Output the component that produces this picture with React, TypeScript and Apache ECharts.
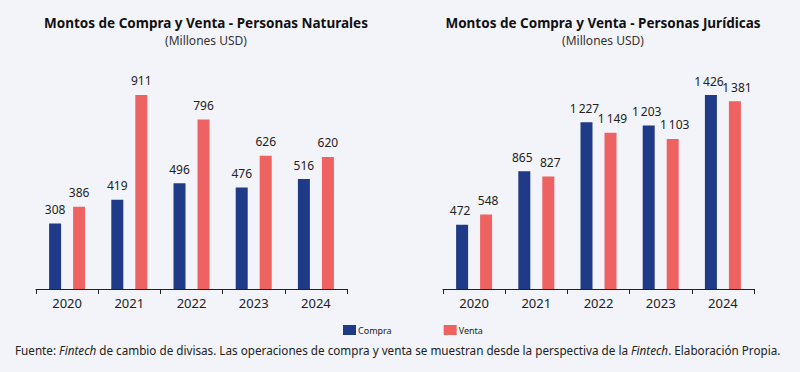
import React, { useEffect, useRef } from "react";
import * as echarts from "echarts";

const years = ["2020", "2021", "2022", "2023", "2024"];
const naturalesCompra = [308, 419, 496, 476, 516];
const naturalesVenta = [386, 911, 796, 626, 620];
const juridicasCompra = [472, 865, 1227, 1203, 1426];
const juridicasVenta = [548, 827, 1149, 1103, 1381];

const BG = "#f3f4f9";
const NAVY = "#1f3b87";
const RED = "#ee6262";
const FONT = "'Noto Sans', sans-serif";

const fmt = (v: number) => String(v).replace(/\B(?=(\d{3})+(?!\d))/g, "\u2009");

export default function App() {
  const ref = useRef<HTMLDivElement>(null);
  useEffect(() => {
    document.body.style.margin = "0";
    const chart = echarts.init(ref.current!, null, { renderer: "svg" });
    const xAxisBase = {
      type: "category" as const,
      data: years,
      axisLine: { lineStyle: { color: "#222", width: 1 } },
      axisTick: { show: true, length: 5, lineStyle: { color: "#222" } },
      axisLabel: { fontSize: 13, color: "#222", fontFamily: FONT, margin: 7 },
    };
    const yAxisBase = {
      type: "value" as const,
      min: 0,
      show: false,
      splitLine: { show: false },
    };
    const mkLabel = (dx: number) => ({
      show: true,
      position: "top" as const,
      distance: 8,
      offset: [dx, 0],
      fontSize: 12,
      color: "#222",
      fontFamily: FONT,
      formatter: (p: any) => fmt(p.value),
    });
    const mkSeries = (name: string, data: number[], color: string, idx: number, dx: number) => ({
      name,
      type: "bar" as const,
      data,
      xAxisIndex: idx,
      yAxisIndex: idx,
      barWidth: 12,
      barGap: "100%",
      itemStyle: { color },
      label: mkLabel(dx),
    });
    const titleStyle = { fontSize: 13.5, fontWeight: "bold" as const, color: "#111", fontFamily: FONT };
    const subStyle = { fontSize: 12, color: "#333", fontFamily: FONT };
    chart.setOption({
      animation: false,
      backgroundColor: BG,
      textStyle: { fontFamily: FONT },
      title: [
        {
          text: "Montos de Compra y Venta - Personas Naturales",
          subtext: "(Millones USD)",
          left: 201,
          top: 11,
          textAlign: "center",
          itemGap: 4,
          textStyle: titleStyle,
          subtextStyle: subStyle,
        },
        {
          text: "Montos de Compra y Venta - Personas Jurídicas",
          subtext: "(Millones USD)",
          left: 598,
          top: 11,
          textAlign: "center",
          itemGap: 4,
          textStyle: titleStyle,
          subtextStyle: subStyle,
        },
      ],
      legend: {
        left: 338,
        top: 320,
        itemWidth: 13,
        itemHeight: 10,
        itemGap: 52,
        icon: "rect",
        textStyle: { fontSize: 9, color: "#222", fontFamily: FONT, padding: [0, 0, 0, -3] },
        data: ["Compra", "Venta"],
      },
      grid: [
        { left: 36, width: 311, top: 76, bottom: 372 - 289, containLabel: false },
        { left: 443, width: 311, top: 85, bottom: 372 - 289, containLabel: false },
      ],
      xAxis: [
        { ...xAxisBase, gridIndex: 0 },
        { ...xAxisBase, gridIndex: 1 },
      ],
      yAxis: [
        { ...yAxisBase, gridIndex: 0, max: 1000 },
        { ...yAxisBase, gridIndex: 1, max: 1500 },
      ],
      series: [
        mkSeries("Compra", naturalesCompra, NAVY, 0, 0),
        mkSeries("Venta", naturalesVenta, RED, 0, 0),
        mkSeries("Compra", juridicasCompra, NAVY, 1, -2),
        mkSeries("Venta", juridicasVenta, RED, 1, 2),
      ],
      graphic: [
        {
          type: "text",
          left: 15,
          top: 344,
          style: {
            text:
              "Fuente: {i|Fintech} de cambio de divisas. Las operaciones de compra y venta se muestran desde la perspectiva de la {i|Fintech}. Elaboración Propia.",
            fontSize: 11.7,
            fill: "#222",
            fontFamily: FONT,
            rich: {
              i: { fontStyle: "italic", fontSize: 11.7, fill: "#222", fontFamily: FONT },
            },
          },
        },
      ],
    });
    return () => chart.dispose();
  }, []);
  return (
    <div
      ref={ref}
      style={{ position: "absolute", left: 0, top: 0, width: 800, height: 372, background: BG }}
    />
  );
}
